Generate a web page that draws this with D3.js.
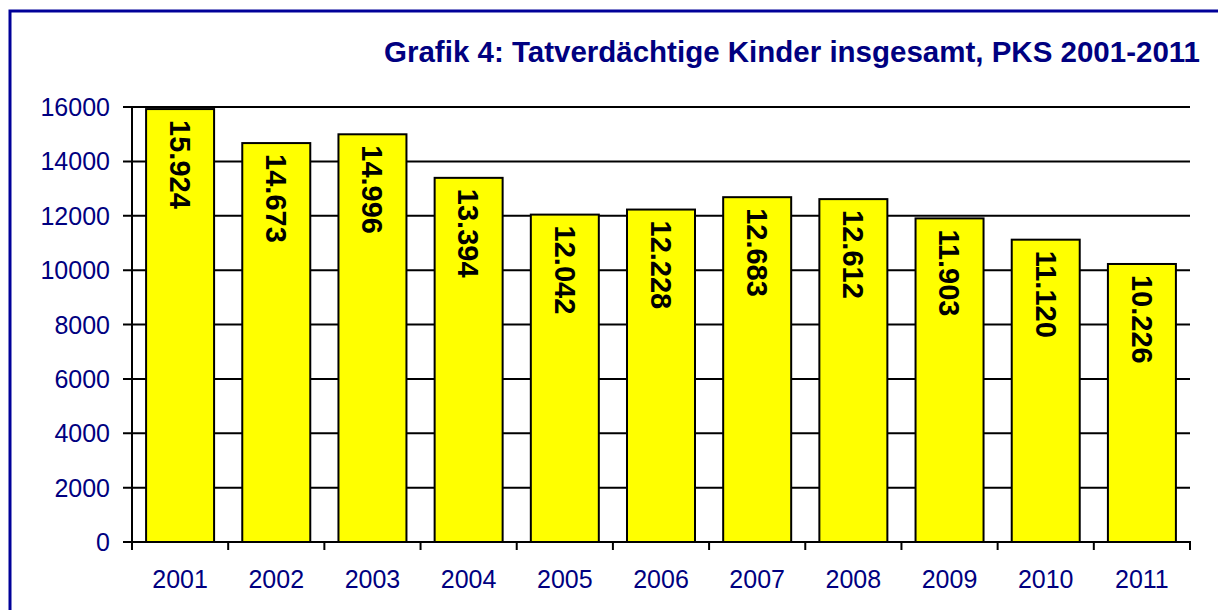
<!DOCTYPE html>
<html lang="de">
  <head>
    <meta charset="UTF-8" />
    <title>Grafik 4: Tatverdächtige Kinder insgesamt, PKS 2001-2011</title>
    <script src="https://d3js.org/d3.v7.min.js"></script>
    <style>
      body { margin: 0; background: #fff; }
      text { font-family: Arial, "Liberation Sans", sans-serif; }
    </style>
  </head>
  <body>
    <svg id="chart" width="1218" height="610"></svg>
    <script>
      const years = ["2001", "2002", "2003", "2004", "2005", "2006", "2007", "2008", "2009", "2010", "2011"];
      const kinder = [15924, 14673, 14996, 13394, 12042, 12228, 12683, 12612, 11903, 11120, 10226];
      const yTicks = [0, 2000, 4000, 6000, 8000, 10000, 12000, 14000, 16000];
      const title = "Grafik 4: Tatverdächtige Kinder insgesamt, PKS 2001-2011";

      const navy = "#000080";
      const svg = d3.select("#chart");

      // outer frame (runs off the right/bottom like the original)
      svg.append("rect")
        .attr("x", 10).attr("y", 11)
        .attr("width", 1230).attr("height", 620)
        .attr("fill", "none").attr("stroke", "#000099").attr("stroke-width", 3);

      const plotL = 132, plotR = 1190, plotT = 107, plotB = 542;

      const x = d3.scaleBand().domain(years).range([plotL, plotR])
        .paddingInner(0.293).paddingOuter(0.1465);
      const y = d3.scaleLinear().domain([0, 16000]).range([plotB, plotT]);

      // gridlines
      svg.append("g").selectAll("line").data(yTicks).join("line")
        .attr("x1", plotL - 9).attr("x2", plotR)
        .attr("y1", d => y(d)).attr("y2", d => y(d))
        .attr("stroke", "#000").attr("stroke-width", 2);

      // y axis labels
      svg.append("g").selectAll("text").data(yTicks).join("text")
        .attr("x", 110).attr("y", d => y(d))
        .attr("dy", "0.36em")
        .attr("text-anchor", "end")
        .attr("font-size", 25)
        .attr("fill", navy)
        .text(d => d);

      // bars
      svg.append("g").selectAll("rect").data(kinder).join("rect")
        .attr("x", (d, i) => x(years[i]))
        .attr("y", d => y(d))
        .attr("width", x.bandwidth())
        .attr("height", d => y(0) - y(d))
        .attr("fill", "#ffff00")
        .attr("stroke", "#000").attr("stroke-width", 2);

      // axis lines and ticks
      svg.append("line")
        .attr("x1", plotL).attr("x2", plotL).attr("y1", plotT).attr("y2", plotB + 8)
        .attr("stroke", "#000").attr("stroke-width", 2);
      svg.append("line")
        .attr("x1", plotL - 9).attr("x2", plotR + 1).attr("y1", plotB).attr("y2", plotB)
        .attr("stroke", "#000").attr("stroke-width", 2);
      const step = x.step();
      const bounds = d3.range(years.length + 1).map(i => plotL + i * step);
      svg.append("g").selectAll("line").data(bounds).join("line")
        .attr("x1", d => d).attr("x2", d => d)
        .attr("y1", plotB).attr("y2", plotB + 8)
        .attr("stroke", "#000").attr("stroke-width", 2);

      // x labels
      svg.append("g").selectAll("text").data(years).join("text")
        .attr("x", d => x(d) + x.bandwidth() / 2)
        .attr("y", 588)
        .attr("text-anchor", "middle")
        .attr("font-size", 25)
        .attr("fill", navy)
        .text(d => d);

      // value labels inside bars
      const fmt = v => d3.format(",")(v).replace(/,/g, ".");
      svg.append("g").selectAll("text").data(kinder).join("text")
        .attr("transform", (d, i) => `translate(${x(years[i]) + x.bandwidth() / 2},${y(d) + 11}) rotate(90)`)
        .attr("dy", "0.35em")
        .attr("text-anchor", "start")
        .attr("font-size", 29)
        .attr("font-weight", "bold")
        .attr("fill", "#000")
        .text(d => fmt(d));

      // title
      svg.append("text")
        .attr("x", 1200).attr("y", 62)
        .attr("text-anchor", "end")
        .attr("font-size", 29.5)
        .attr("font-weight", "bold")
        .attr("fill", navy)
        .text(title);
    </script>
  </body>
</html>
